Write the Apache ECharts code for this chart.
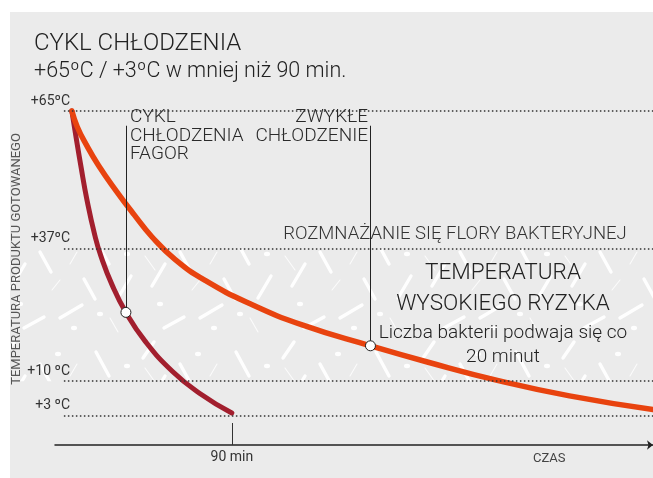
<!DOCTYPE html>
<html>
<head>
<meta charset="utf-8">
<script src="https://cdn.jsdelivr.net/npm/echarts@6/dist/echarts.min.js"></script>
<style>
  html, body { margin: 0; padding: 0; background: #fff; }
  #chart { width: 653px; height: 478px; }
</style>
</head>
<body>
<div id="chart"></div>
<script>
// Cooling curves: product temperature (°C) against time (min)
const fagorTime = [0, 2.25, 5.06, 8.44, 12.9, 16.3, 22.5, 30.4, 41.1, 56.8, 72, 90];
const fagorTemp = [65, 59.9, 53.8, 47.0, 39.7, 35.5, 29.7, 24.0, 18.2, 11.9, 7.5, 3.5];

const standardTime = [0, 3, 8, 15, 25, 35, 45, 58, 75, 100, 130, 168, 200, 240, 280, 327];
const standardTemp = [65, 61.8, 58.2, 53.9, 48.7, 43.9, 39.4, 34.8, 30.5, 25.8, 21.4, 17.2, 13.9, 10.1, 7.0, 4.2];

// Reference temperatures and their labels
const tempLevels = [65, 37, 10, 3];
const tempLabels = ['+65ºC', '+37ºC', '+10 ºC', '+3 ºC'];
// Time tick
const timeTicks = [90];

// Points picked out on each curve
const fagorMarkIndex = 7;
const standardMarkIndex = 11;
const annotationTop = 62;

const FONT = 'Roboto, "Noto Sans", sans-serif';

function zip(xs, ys) { return xs.map((x, i) => [x, ys[i]]); }

// White scratch texture used for the high-risk band
function hatchTile() {
  const c = document.createElement('canvas');
  c.width = 140; c.height = 112;
  const g = c.getContext('2d');
  g.lineCap = 'round';
  const thick = [[12,62,25,40],[40,28,51,48],[60,94,82,81],[96,16,109,40],[118,74,131,52],[24,104,44,93],[84,55,95,75],[3,22,14,6]];
  g.strokeStyle = 'rgba(255,255,255,0.95)';
  g.lineWidth = 3.4;
  thick.forEach(([a, b, c2, d]) => { g.beginPath(); g.moveTo(a, b); g.lineTo(c2, d); g.stroke(); });
  const thin = [[5,32,15,46],[70,40,77,28],[110,94,118,108],[52,66,60,56]];
  g.strokeStyle = 'rgba(255,255,255,0.8)';
  g.lineWidth = 1.1;
  thin.forEach(([a, b, c2, d]) => { g.beginPath(); g.moveTo(a, b); g.lineTo(c2, d); g.stroke(); });
  const dots = [[58,18],[20,80],[127,30],[100,90],[74,104]];
  g.fillStyle = 'rgba(255,255,255,0.95)';
  dots.forEach(([x, y]) => { g.beginPath(); g.ellipse(x, y, 3, 2.2, 0, 0, Math.PI * 2); g.fill(); });
  return c;
}

const chart = echarts.init(document.getElementById('chart'), null, { renderer: 'canvas' });

const fagorData = zip(fagorTime, fagorTemp);
const standardData = zip(standardTime, standardTemp);
const marks = [fagorData[fagorMarkIndex], standardData[standardMarkIndex]];

chart.setOption({
  backgroundColor: '#fff',
  animation: false,
  textStyle: { fontFamily: FONT },
  grid: { left: 55, right: 0, top: 111, bottom: 33, containLabel: false, outerBoundsMode: 'none' },
  xAxis: {
    type: 'value',
    min: -9.5,
    max: 327,
    name: 'CZAS',
    nameLocation: 'end',
    nameGap: -120,
    nameTextStyle: { color: '#444', fontSize: 13, align: 'left', verticalAlign: 'top', padding: [7, 0, 0, 0], fontFamily: FONT },
    axisLine: {
      show: true, onZero: false,
      symbol: ['none', 'arrow'], symbolSize: [7, 6],
      lineStyle: { color: '#222', width: 1.5 }
    },
    axisTick: { show: true, customValues: timeTicks, inside: true, length: 22, lineStyle: { color: '#333', width: 1 } },
    axisLabel: { show: true, customValues: timeTicks, formatter: v => v + ' min', color: '#333', fontSize: 14, margin: 5, fontFamily: FONT },
    splitLine: { show: false }
  },
  yAxis: {
    type: 'value',
    min: -3,
    max: 65,
    axisLine: { show: false },
    axisTick: { show: false },
    splitLine: { show: false },
    axisLabel: {
      show: true,
      customValues: tempLevels,
      formatter: v => tempLabels[tempLevels.indexOf(v)],
      margin: -15,
      verticalAlign: 'bottom',
      padding: [0, 0, 3, 0],
      color: '#333',
      fontSize: 14,
      fontFamily: FONT
    }
  },
  series: [
    {
      // dotted reference temperatures
      type: 'line',
      z: 1,
      data: [],
      silent: true,
      markLine: {
        silent: true,
        symbol: ['none', 'none'],
        label: { show: false },
        lineStyle: { color: '#333', width: 1.5, type: [1.5, 2.5] },
        data: tempLevels.map(t => [{ coord: [-4.5, t] }, { coord: [327, t] }])
      }
    },
    {
      name: 'Cykl chłodzenia Fagor',
      type: 'line',
      z: 2,
      data: fagorData,
      smooth: 0.5,
      showSymbol: false,
      clip: false,
      lineStyle: { color: '#a21f2e', width: 5, cap: 'round' }
    },
    {
      name: 'Zwykłe chłodzenie',
      type: 'line',
      z: 3,
      data: standardData,
      smooth: 0.5,
      showSymbol: false,
      clip: false,
      lineStyle: { color: '#e8430f', width: 5.5, cap: 'round' }
    },
    {
      type: 'scatter',
      z: 5,
      data: marks,
      symbol: 'circle',
      symbolSize: 10,
      itemStyle: { color: '#fff', borderColor: '#222', borderWidth: 1, opacity: 1 },
      markLine: {
        silent: true,
        symbol: ['none', 'none'],
        label: { show: false },
        lineStyle: { color: '#222', width: 1, type: 'solid' },
        data: marks.map(p => [{ coord: [p[0], p[1]] }, { coord: [p[0], annotationTop] }])
      }
    }
  ]
});

// Panel, texture band and text annotations
const y37 = chart.convertToPixel({ gridIndex: 0 }, [0, 37])[1];
const y10 = chart.convertToPixel({ gridIndex: 0 }, [0, 10])[1];
const bandH = y10 - y37;
const tile = hatchTile();

function txt(x, y, text, size, opts) {
  return Object.assign({
    type: 'text', x: x, y: y, silent: true,
    style: Object.assign({
      text: text, fill: '#222', font: '300 ' + size + 'px ' + FONT,
      align: 'left', verticalAlign: 'middle'
    }, (opts && opts.style) || {})
  }, { z: 10 }, (opts && opts.el) || {});
}

chart.setOption({
  graphic: [
    { type: 'rect', z: -10, silent: true, shape: { x: 10, y: 12, width: 643, height: 466 }, style: { fill: '#ebebeb' } },
    { type: 'rect', z: -9, silent: true, shape: { x: 10, y: y37, width: 643, height: bandH }, style: { fill: { image: tile, repeat: 'repeat' } } },
    // vertical axis title
    txt(17, 259, 'TEMPERATURA PRODUKTU GOTOWANEGO', 13, { style: { align: 'center', fill: '#555', font: '400 13px ' + FONT }, el: { rotation: Math.PI / 2 } }),
    txt(34, 44, 'CYKL CHŁODZENIA', 24),
    txt(34, 72, '+65ºC / +3ºC w mniej niż 90 min.', 21.5),
    txt(130, 108, 'CYKL\nCHŁODZENIA\nFAGOR', 19, { style: { verticalAlign: 'top', lineHeight: 18.5, fill: '#2a2a2a' } }),
    txt(368, 108, 'ZWYKŁE\nCHŁODZENIE', 19, { style: { align: 'right', verticalAlign: 'top', lineHeight: 18.5, fill: '#2a2a2a' } }),
    txt(455, y37 - 14, 'ROZMNAŻANIE SIĘ FLORY BAKTERYJNEJ', 18.5, { style: { align: 'center', fill: '#333' } }),
    txt(503, y37 + bandH * 0.19, 'TEMPERATURA', 22.5, { style: { align: 'center' } }),
    txt(503, y37 + bandH * 0.42, 'WYSOKIEGO RYZYKA', 22.5, { style: { align: 'center' } }),
    txt(503, y37 + bandH * 0.64, 'Liczba bakterii podwaja się co', 19, { style: { align: 'center' } }),
    txt(503, y37 + bandH * 0.82, '20 minut', 19, { style: { align: 'center' } })
  ]
});
</script>
</body>
</html>
